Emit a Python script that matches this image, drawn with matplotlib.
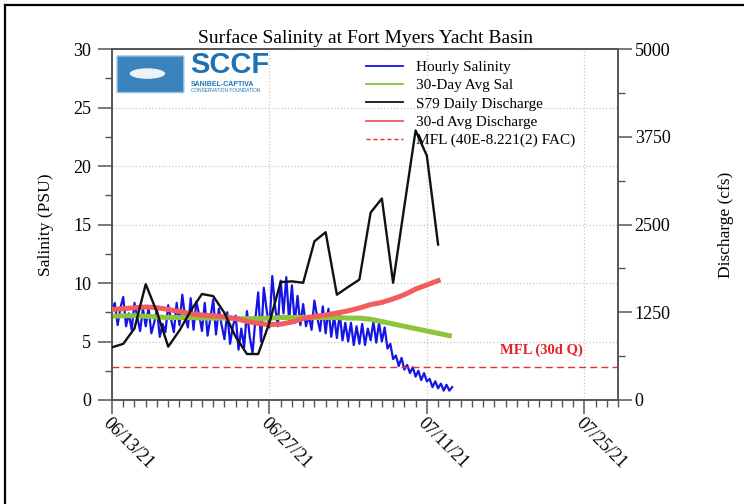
import numpy as np
import pandas as pd
import matplotlib
matplotlib.use("Agg")
import matplotlib.pyplot as plt
import matplotlib.dates as mdates
from matplotlib.lines import Line2D
from matplotlib.patches import FancyBboxPatch, Ellipse

# hourly salinity, read every 6 h (4 per day) starting 06/13/21 00:00
sal_hourly = [
    7.6, 8.3, 6.4, 7.9,  8.8, 6.3, 7.4, 6.0,  8.3, 7.1, 5.9, 7.8,
    6.3, 7.9, 5.7, 6.6,  7.7, 5.4, 6.5, 5.8,  8.1, 6.9, 5.8, 8.3,
    6.4, 9.0, 7.1, 6.2,  8.7, 6.0, 8.4, 7.3,  5.9, 8.3, 5.5, 7.0,
    8.6, 5.6, 7.8, 6.4,  5.2, 7.5, 4.8, 6.3,  7.2, 4.3, 6.1, 4.5,
    7.6, 5.4, 4.0, 6.9,  9.2, 5.0, 9.6, 7.7,  6.2, 10.6, 8.0, 6.3,
    10.2, 7.4, 10.5, 6.8,  9.8, 6.6, 8.9, 6.4,  8.2, 6.3, 7.2, 6.0,
    8.5, 7.1, 5.9, 8.0,  5.7, 7.8, 5.4, 7.2,  5.3, 7.4, 5.1, 6.6,
    5.0, 6.6, 4.7, 6.3,  4.8, 6.5, 4.7, 6.1,  5.1, 6.7, 4.9, 6.6,
    5.0, 6.2, 4.4, 4.8,  3.5, 3.8, 2.9, 3.6,  2.6, 3.0, 2.3, 2.8,
    2.0, 2.5, 1.7, 2.3,  1.6, 1.8, 1.1, 1.6,  1.0, 1.4, 0.8, 1.3,
    0.8, 1.1,
]
# 30-day average salinity (daily)
sal_30d = [7.15, 7.2, 7.2, 7.15, 7.1, 7.05, 7.05, 7.05, 7.0, 7.0, 7.0,
           6.95, 6.95, 6.95, 7.0, 7.05, 7.05, 7.05, 7.05, 7.05, 7.05,
           7.0, 7.0, 6.9, 6.7, 6.5, 6.3, 6.1, 5.9, 5.7, 5.5]
# S79 daily discharge (cfs)
q_daily = [750, 800, 1020, 1650, 1250, 760, 990, 1270, 1510, 1480,
           1240, 900, 655, 655, 1100, 1680, 1690, 1670, 2260, 2390,
           1500, 1610, 1715, 2670, 2870, 1670, 2760, 3840, 3480, 2215]
# 30-day average discharge (cfs)
q_30d = [1290, 1300, 1315, 1325, 1315, 1290, 1260, 1230, 1210, 1200,
         1185, 1160, 1120, 1090, 1075, 1080, 1110, 1160, 1190, 1210,
         1240, 1270, 1310, 1360, 1390, 1440, 1500, 1580, 1640, 1700]
mfl_q = 470

t_hourly = pd.date_range("2021-06-13", periods=len(sal_hourly), freq="6h")
t_sal30 = pd.date_range("2021-06-13", periods=len(sal_30d), freq="D")
t_q = pd.date_range("2021-06-13", periods=len(q_daily), freq="D")
t_q30 = pd.date_range("2021-06-13", periods=len(q_30d), freq="D")
date_ticks = pd.date_range("2021-06-13", periods=4, freq="14D")

plt.rcParams["font.family"] = ["Liberation Serif", "DejaVu Serif"]

fig = plt.figure(figsize=(7.44, 5.04), dpi=100)
ax = fig.add_axes([112 / 744, 104 / 504, 506 / 744, 351 / 504])
ax2 = ax.twinx()

ax.plot(t_hourly, sal_hourly, color="#1414e6", lw=1.6, zorder=3)
ax.plot(t_sal30, sal_30d, color="#8cc43c", lw=3.6, zorder=4)
ax2.plot(t_q30, q_30d, color="#f25c5c", lw=3.6, zorder=3)
ax2.plot(t_q, q_daily, color="#111111", lw=1.7, zorder=4)
ax2.axhline(mfl_q, color="#e83030", lw=1.0, ls=(0, (5, 3)), zorder=2)

ax.set_xlim(pd.Timestamp("2021-06-13"), pd.Timestamp("2021-07-28"))
ax.set_ylim(0, 30)
ax2.set_ylim(0, 5000)

ax.set_xticks(date_ticks)
ax.xaxis.set_major_formatter(mdates.DateFormatter("%m/%d/%y"))
ax.xaxis.set_minor_locator(mdates.DayLocator())
ax.set_yticks(np.arange(0, 31, 5))
ax.set_yticks(np.arange(0, 30, 2.5), minor=True)
ax2.set_yticks(np.arange(0, 5001, 1250))
ax2.set_yticks(np.arange(0, 5000, 625), minor=True)

spine_col = "#555555"
for a in (ax, ax2):
    for s in a.spines.values():
        s.set_color(spine_col)
        s.set_linewidth(1.2)
    a.tick_params(which="major", direction="out", length=10, width=1.1,
                  color=spine_col, labelsize=13)
    a.tick_params(which="minor", direction="out", length=5, width=1.0,
                  color=spine_col)
ax.tick_params(axis="y", pad=5)
ax.tick_params(axis="x", pad=1)
ax2.tick_params(axis="y", pad=2)
for lab in ax.get_xticklabels():
    lab.set_rotation(-45)
    lab.set_ha("left")
    lab.set_va("top")
    lab.set_rotation_mode("anchor")

ax.grid(True, which="major", ls=":", color="#c8c8c8", lw=0.9)
ax.set_axisbelow(True)

ax.set_ylabel("Salinity (PSU)", fontsize=12.5, labelpad=14)
ax2.set_ylabel("Discharge (cfs)", fontsize=12.5, labelpad=34)
ax.set_title("Surface Salinity at Fort Myers Yacht Basin", fontsize=14, pad=4)

ax.text(0.767, 0.142, "MFL (30d Q)", transform=ax.transAxes, color="#e02424",
        fontsize=10.5, fontweight="bold", va="center", ha="left")

# legend
handles = [
    Line2D([], [], color="#1414e6", lw=1.3),
    Line2D([], [], color="#8cc43c", lw=1.3),
    Line2D([], [], color="#111111", lw=1.3),
    Line2D([], [], color="#f25c5c", lw=1.3),
    Line2D([], [], color="#e83030", lw=1.0, ls=(0, (3, 2))),
]
labels = ["Hourly Salinity", "30-Day Avg Sal", "S79 Daily Discharge",
          "30-d Avg Discharge", "MFL (40E-8.221(2) FAC)"]
leg = ax2.legend(handles, labels, loc="upper left", bbox_to_anchor=(0.49, 0.985),
                 frameon=False, fontsize=11, handlelength=2.4,
                 handletextpad=0.9, labelspacing=0.3, borderaxespad=0)
leg.set_zorder(5)

# SCCF logo
logo_col = "#1d72b4"
ax.add_patch(FancyBboxPatch((0.012, 0.878), 0.128, 0.1, transform=ax.transAxes,
                            boxstyle="round,pad=0.002", fc="#3a83bd",
                            ec="#9cc2e0", lw=1, zorder=6))
ax.add_patch(Ellipse((0.07, 0.93), 0.07, 0.03, transform=ax.transAxes,
                     fc="white", ec="none", zorder=7, alpha=0.9))
ax.text(0.155, 0.915, "SCCF", transform=ax.transAxes, color=logo_col,
        fontsize=21, fontweight="bold", family=["Liberation Sans", "DejaVu Sans"],
        ha="left", va="bottom", zorder=7)
ax.text(0.156, 0.898, "SANIBEL-CAPTIVA", transform=ax.transAxes, color=logo_col,
        fontsize=5, fontweight="bold", family=["Liberation Sans", "DejaVu Sans"],
        ha="left", va="center", zorder=7)
ax.text(0.156, 0.882, "CONSERVATION FOUNDATION", transform=ax.transAxes,
        color=logo_col, fontsize=3.4, family=["Liberation Sans", "DejaVu Sans"],
        ha="left", va="center", zorder=7)

# outer frame (left and top edges visible)
fig.add_artist(Line2D([5 / 744, 5 / 744], [0, 1 - 5 / 504], color="black",
                      lw=1.6, transform=fig.transFigure))
fig.add_artist(Line2D([5 / 744, 1], [1 - 5 / 504, 1 - 5 / 504], color="black",
                      lw=1.6, transform=fig.transFigure))

fig.savefig("out.png", dpi=100)
